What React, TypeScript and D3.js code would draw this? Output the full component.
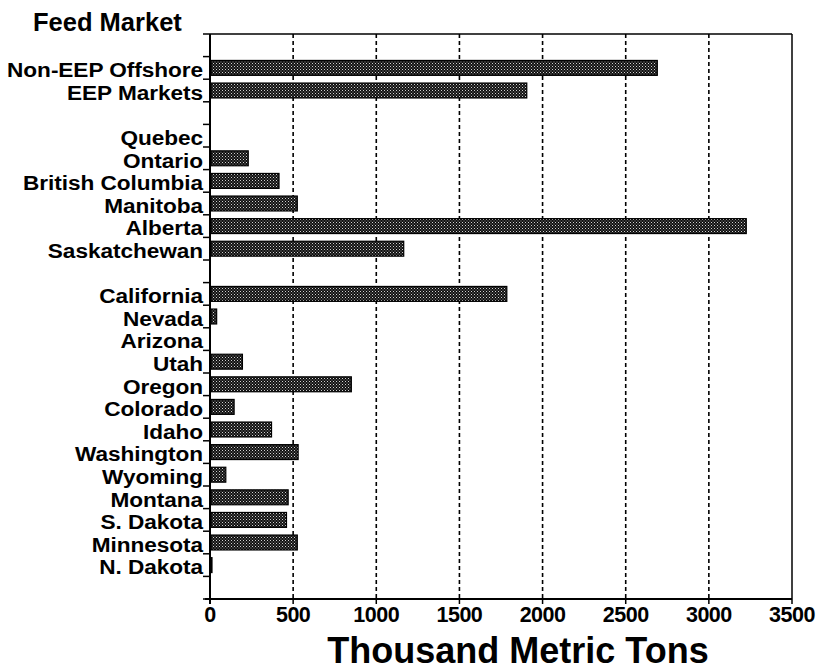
import React from "react";
import * as d3 from "d3";

const exportCategories = ["Non-EEP Offshore", "EEP Markets"];
const exportValues = [2690, 1905];

const canadaCategories = ["Quebec", "Ontario", "British Columbia", "Manitoba", "Alberta", "Saskatchewan"];
const canadaValues = [0, 230, 415, 525, 3225, 1165];

const usCategories = [
  "California", "Nevada", "Arizona", "Utah", "Oregon", "Colorado", "Idaho",
  "Washington", "Wyoming", "Montana", "S. Dakota", "Minnesota", "N. Dakota",
];
const usValues = [1785, 40, 0, 195, 850, 145, 370, 530, 95, 470, 460, 525, 12];

const xTicks = [0, 500, 1000, 1500, 2000, 2500, 3000, 3500];
const chartTitle = "Feed Market";
const xAxisTitle = "Thousand Metric Tons";

const W = 827;
const H = 671;
const left = 210;
const right = 792;
const top = 34;
const bottom = 599;
const font = "'Liberation Sans', Arial, Helvetica, sans-serif";

export default function App() {
  const slots = [
    "__gap0",
    ...exportCategories,
    "__gap1",
    ...canadaCategories,
    "__gap2",
    ...usCategories,
    "__gap3",
  ];
  const rows = [
    ...exportCategories.map((c, i) => ({ c, v: exportValues[i] })),
    ...canadaCategories.map((c, i) => ({ c, v: canadaValues[i] })),
    ...usCategories.map((c, i) => ({ c, v: usValues[i] })),
  ];
  const x = d3.scaleLinear().domain([0, 3500]).range([left, right]);
  const y = d3.scaleBand<string>().domain(slots).range([top, bottom]).padding(0);
  const bw = y.bandwidth();
  const barH = bw * 0.66;
  const boundaries = d3.range(slots.length + 1).map((i) => top + i * bw);

  return (
    <svg
      width={W}
      height={H}
      style={{ position: "absolute", left: 0, top: 0, background: "#fff" }}
      fontFamily={font}
    >
      <defs>
        <pattern id="stip" width="3" height="3" patternUnits="userSpaceOnUse">
          <rect width="3" height="3" fill="#111" />
          <rect x="0" y="0" width="1" height="1" fill="#d0d0d0" />
          <rect x="1.5" y="1.5" width="1" height="1" fill="#9a9a9a" />
        </pattern>
      </defs>
      <rect width={W} height={H} fill="#fff" />

      {/* gridlines */}
      {xTicks.slice(1, -1).map((t) => (
        <line
          key={"g" + t}
          x1={x(t)}
          x2={x(t)}
          y1={top}
          y2={bottom}
          stroke="#000"
          strokeWidth={1.6}
          strokeDasharray="4,3"
        />
      ))}

      {/* frame */}
      <line x1={left} x2={right} y1={top} y2={top} stroke="#000" strokeWidth={1.5} />
      <line x1={right} x2={right} y1={top} y2={bottom} stroke="#000" strokeWidth={1.5} />
      <line x1={left} x2={left} y1={top} y2={bottom + 5} stroke="#000" strokeWidth={2} />
      <line x1={left - 5} x2={right} y1={bottom} y2={bottom} stroke="#000" strokeWidth={2} />

      {/* y ticks */}
      {boundaries.map((b, i) => (
        <line key={"yt" + i} x1={left - 7} x2={left} y1={b} y2={b} stroke="#000" strokeWidth={1.5} />
      ))}

      {/* x ticks */}
      {xTicks.map((t) => (
        <g key={"xt" + t}>
          <line x1={x(t)} x2={x(t)} y1={bottom} y2={bottom + 5} stroke="#000" strokeWidth={1.5} />
          <text
            x={x(t)}
            y={622}
            textAnchor="middle"
            fontSize={21.5}
            fontWeight="bold"
            fill="#000"
            letterSpacing={-0.5}
          >
            {t}
          </text>
        </g>
      ))}

      {/* bars */}
      {rows.map((r) =>
        r.v > 0 ? (
          <rect
            key={"b" + r.c}
            x={x(0) + 1}
            y={(y(r.c) as number) + (bw - barH) / 2}
            width={Math.max(0, x(r.v) - x(0) - 1)}
            height={barH}
            fill="url(#stip)"
            stroke="#000"
            strokeWidth={1.2}
          />
        ) : null
      )}

      {/* labels */}
      {rows.map((r) => (
        <text
          key={"l" + r.c}
          transform={`translate(203,${(y(r.c) as number) + bw - 2}) scale(1.16,1)`}
          x={0}
          y={0}
          textAnchor="end"
          fontSize={19.5}
          fontWeight="bold"
          fill="#000"
          letterSpacing={-0.05}
        >
          {r.c}
        </text>
      ))}

      <text x={33} y={31} fontSize={25.5} fontWeight="bold" fill="#000">
        {chartTitle}
      </text>
      <text x={518} y={663} textAnchor="middle" fontSize={36} fontWeight="bold" fill="#000">
        {xAxisTitle}
      </text>
    </svg>
  );
}
